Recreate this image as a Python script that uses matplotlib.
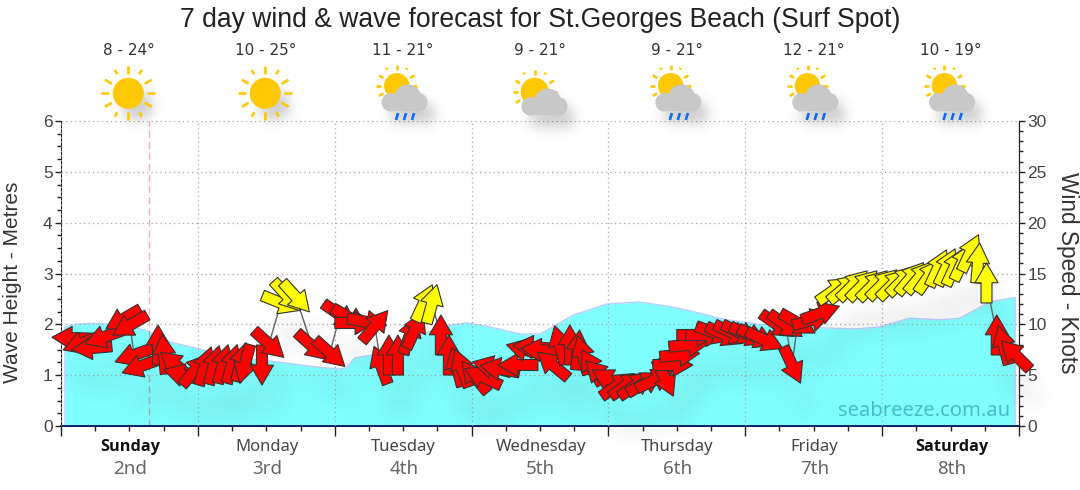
import numpy as np
import matplotlib
matplotlib.use("Agg")
import matplotlib.pyplot as plt
from matplotlib.patches import Circle, Rectangle
from matplotlib.collections import PatchCollection
from matplotlib.ticker import MultipleLocator

plt.rcParams['font.family'] = ['Liberation Sans', 'DejaVu Sans']

title = "7 day wind & wave forecast for St.Georges Beach (Surf Spot)"
days = ["Sunday", "Monday", "Tuesday", "Wednesday", "Thursday", "Friday", "Saturday"]
dates = ["2nd", "3rd", "4th", "5th", "6th", "7th", "8th"]
bold_days = ["Sunday", "Saturday"]
temps = ["8 - 24°", "10 - 25°", "11 - 21°", "9 - 21°", "9 - 21°", "12 - 21°", "10 - 19°"]
icons = ["sun", "sun", "rain", "cloud", "rain", "rain", "rain"]

wave_hours = [0.7, 2.5, 5.1, 10.3, 14.7, 19.1, 23.8, 28.4, 33.1, 37.2, 44.9, 48.9, 50.1, 51.5, 54.7, 60.7,
              66.4, 71.2, 75.2, 80.5, 84.0, 89.8, 95.7, 101.5, 107.3, 112.0, 116.1, 122.5, 133.6, 139.6,
              143.6, 148.8, 154.1, 157.6, 162.9, 167.3]
wave_m = [1.95, 2.00, 2.02, 2.00, 1.89, 1.65, 1.53, 1.40, 1.32, 1.27, 1.16, 1.12, 1.15, 1.34, 1.40, 1.65,
          1.95, 2.03, 1.95, 1.81, 1.81, 2.18, 2.40, 2.44, 2.34, 2.22, 2.10, 2.00, 1.93, 1.91,
          1.95, 2.12, 2.09, 2.12, 2.44, 2.53]

wind_hours = [1.93, 3.68, 5.43, 7.54, 10.9, 12.1, 12.80, 14.03, 17.01, 18.06, 20.16, 21.39, 23.49, 25.25,
              26.82, 28.40, 29.98, 31.56, 32.26, 35.24, 36.47, 38.57, 39.62, 41.20, 44.00, 47.16, 48.91,
              50.67, 51.54, 53.65, 55.05, 56.10, 57.50, 59.08, 61.19, 62.06, 63.64, 65.04, 66.62, 68.02,
              69.42, 70.30, 72.58, 73.98, 75.56, 76.96, 80.12, 81.52, 82.75, 84.15, 86.25, 87.48, 89.24,
              90.64, 91.52, 93.09, 94.50, 96.25, 97.65, 99.23, 100.8, 102.4, 104.1, 105.9, 107.3, 108.5,
              110.1, 111.5, 113.1, 114.7, 116.4, 117.8, 119.2, 120.6, 122.0, 123.4, 125.7, 127.1, 128.2,
              129.2, 131.7, 133.2, 135.6, 137.4, 138.9, 140.6, 142.4, 144.1, 145.9, 147.6, 149.0, 150.6,
              152.2, 153.8, 155.3, 156.7, 158.1, 159.4, 160.8, 162.3, 164.1, 165.3, 167.4]
wind_knots = [8.66, 8.16, 7.67, 8.75, 10.52, 9.93, 6.98, 5.90, 7.97, 7.08, 6.00, 5.02, 5.51, 5.90,
              6.00, 6.10, 6.10, 6.29, 6.10, 6.00, 8.07, 12.10, 12.79, 12.69, 7.87, 7.18, 10.92,
              10.62, 10.13, 10.23, 9.84, 6.00, 6.98, 6.98, 8.95, 9.44, 12.10, 12.00, 8.95, 6.98,
              5.80, 5.70, 4.82, 4.82, 5.80, 5.61, 6.00, 7.48, 7.77, 7.48, 6.00, 7.97, 7.97,
              7.48, 6.98, 5.80, 5.02, 4.52, 4.03, 4.03, 4.03, 4.23, 4.52, 4.72, 6.00, 6.98,
              7.97, 8.95, 8.95, 9.15, 8.95, 9.15, 9.15, 8.95, 8.75, 8.46, 9.93, 9.93, 6.00,
              10.13, 10.43, 11.11, 13.38, 13.57, 13.87, 13.87, 13.87, 13.97, 13.97, 14.36, 14.56, 14.66,
              14.75, 15.54, 15.64, 15.64, 16.13, 17.02, 16.03, 14.07, 8.95, 7.97, 6.98]
wind_dirs = [178, 200, 185, 200, 210, 210, 200, 200, 90, 95, 140, 165, 50, 72,
             75, 75, 75, 75, 255, 270, -42, -22, -48, -48, -42, -42, -35,
             -30, 0, -10, 50, 110, 90, 90, 70, 65, 65, 75, 90, 90,
             105, 110, 130, 155, 165, 170, 180, 165, 175, 175, 140, 105, 90,
             85, 105, 120, 135, 150, 35, 35, 35, 30, 25, -65, 0, 5,
             5, 0, 0, -20, -25, -25, -25, -25, -25, -25, -35, -35, -65,
             -30, 15, 20, 35, 40, 45, 45, 45, 45, 45, 45, 50, 50,
             55, 65, 65, 65, 65, 65, 85, 90, 90, 105, 135]
offshore = [False] * 21 + [True] * 3 + [False] * 12 + [True] * 2 + [False] * 44 + [True] * 18 + [False] * 3

now_hour = 15.43
W, H = 1080, 490


class Shadow:
    def __init__(self, sigma, dx, dy, strength, pad=40):
        self.sigma, self.dx, self.dy, self.strength, self.pad = sigma, dx, dy, strength, pad

    def __call__(self, im, dpi):
        p = self.pad
        a = np.pad(im[..., 3], p)
        r = int(3 * self.sigma)
        g = np.exp(-0.5 * (np.arange(-r, r + 1) / self.sigma) ** 2)
        g /= g.sum()
        a = np.apply_along_axis(lambda v: np.convolve(v, g, mode='same'), 0, a)
        a = np.apply_along_axis(lambda v: np.convolve(v, g, mode='same'), 1, a)
        a = np.roll(a, (self.dy, self.dx), axis=(0, 1))
        out = np.zeros(a.shape + (4,))
        out[..., :3] = 0.15
        out[..., 3] = np.clip(a * self.strength, 0, 1)
        return out, -p, -p


fig = plt.figure(figsize=(W / 100, H / 100), dpi=100)
ax = fig.add_axes([61 / W, 1 - 426 / H, (1019 - 61) / W, (426 - 121) / H])
ax.set_xlim(0, 168)
ax.set_ylim(0, 6)
ax.fill_between(wave_hours, wave_m, 0, color='#80ffff', lw=0, zorder=1)
ax.plot([wave_hours[0]] + wave_hours + [wave_hours[-1]], [0] + wave_m + [0], color='#b8d0ff', lw=1, zorder=1.2)
ax.set_axisbelow(False)
ax.grid(True, which='major', color='#a6a6a6', lw=0.9, ls=(0, (1, 2.6)))
ax.axvline(now_hour, color=(0.9, 0.1, 0.1, 0.35), lw=1, ls=(0, (5, 3)), zorder=2)
ax.xaxis.set_major_locator(MultipleLocator(24))
ax.xaxis.set_minor_locator(MultipleLocator(6))
ax.yaxis.set_major_locator(MultipleLocator(1))
ax.yaxis.set_minor_locator(MultipleLocator(0.25))
ax.set_xticklabels([])
ax.tick_params(axis='x', which='major', length=7, width=1, color='#222')
ax.tick_params(axis='x', which='minor', length=3.5, width=1, color='#222')
ax.tick_params(axis='y', which='major', length=4, width=1, color='#222', labelsize=12.5, labelcolor='#444', pad=2)
ax.tick_params(axis='y', which='minor', length=3, width=1, color='#222')
ax.spines['top'].set_visible(False)
ax.spines['left'].set_color('#222')
ax.spines['bottom'].set_color('#0b1a5e')
ax.spines['bottom'].set_linewidth(1.4)

ax2 = ax.twinx()
ax2.set_ylim(0, 30)
ax2.yaxis.set_major_locator(MultipleLocator(5))
ax2.yaxis.set_minor_locator(MultipleLocator(1))
ax2.tick_params(axis='y', which='major', length=4, width=1, color='#222', labelsize=12.5, labelcolor='#444', pad=2)
ax2.tick_params(axis='y', which='minor', length=3, width=1, color='#222')
for s in ['top', 'bottom', 'left']:
    ax2.spines[s].set_visible(False)
ax2.spines['right'].set_color('#222')

ax2.plot(wind_hours, wind_knots, color='#666', lw=1, zorder=3)

arrow_px = 40
rad = np.deg2rad(wind_dirs)
u = arrow_px * np.cos(rad)
v = arrow_px * np.sin(rad)
arrow_kw = dict(angles='uv', scale_units='dots', scale=1, units='dots', width=11, headwidth=2.1,
                headlength=1.8, headaxislength=1.8, pivot='mid', clip_on=False)
sh = ax2.quiver(wind_hours, wind_knots, u, v, color='k', lw=0, zorder=4, **arrow_kw)
sh.set_agg_filter(Shadow(6, 4, 12, 0.42))
colors = ['#ffff00' if o else '#ff0000' for o in offshore]
ax2.quiver(wind_hours, wind_knots, u, v, color=colors, edgecolor='#333', linewidth=0.8, zorder=5, **arrow_kw)

ax2.text(0.9906, 0.05, "seabreeze.com.au", transform=ax2.transAxes, ha='right', va='center',
         color='#45bfc4', fontsize=14.5, family='Noto Sans', zorder=6)

ov = fig.add_axes([0, 0, 1, 1], facecolor='none')
ov.set_xlim(0, W)
ov.set_ylim(H, 0)
ov.axis('off')
ov.text(540, 20, title, ha='center', va='center', fontsize=19.1, color='#222')
ov.text(13, 282, "Wave Height - Metres", rotation=90, ha='center', va='center', fontsize=15, color='#333')
ov.text(1067, 273, "Wind Speed - Knots", rotation=270, ha='center', va='center', fontsize=16.3, color='#333')


def sun(cx, cy, r, r1, r2):
    for k in range(12):
        t = np.deg2rad(30 * k)
        start = r1 + (3 if k in (2, 4, 8, 10) else 0)
        ov.plot([cx + start * np.cos(t), cx + r2 * np.cos(t)], [cy + start * np.sin(t), cy + r2 * np.sin(t)],
                color='#ffc800', lw=1.9, solid_capstyle='butt', zorder=3)
    ov.add_patch(Circle((cx, cy), r, color='#ffc800', lw=0, zorder=3))


def cloud_parts(cx, cy):
    return [Circle((cx - 12, cy + 1.3), 9.3), Circle((cx + 5, cy - 3), 13.5), Circle((cx + 15.5, cy + 1.3), 9.3),
            Rectangle((cx - 12, cy), 27.5, 10.4)]


for i, (temp, kind, day, date) in enumerate(zip(temps, icons, days, dates)):
    cx = 129 + 136.9 * i
    ov.text(cx, 50.5, temp, ha='center', va='center', fontsize=11, color='#333', family='DejaVu Sans')
    is_bold = day in bold_days
    ov.text(cx + 1, 447, day, ha='center', va='center', fontsize=11.7 if is_bold else 12,
            color='#111' if is_bold else '#444', fontweight='bold' if is_bold else 'normal',
            family='Open Sans' if is_bold else 'Noto Sans')
    ov.text(cx + 1, 469, date, ha='center', va='center', fontsize=13.5, color='#666', family='Noto Sans')
    if kind == 'sun':
        pc = PatchCollection([Circle((cx, 93), 15.5)], color='k', lw=0, zorder=1)
        pc.set_agg_filter(Shadow(6, 8, 12, 0.22))
        ov.add_collection(pc)
        sun(cx - 0.7, 93.3, 15.5, 19, 27)
    else:
        cy = 101 if kind == 'rain' else 105
        parts = cloud_parts(cx if kind == 'rain' else cx + 3, cy)
        pc = PatchCollection(parts, color='k', lw=0, zorder=1)
        pc.set_agg_filter(Shadow(6, 8, 12, 0.22))
        ov.add_collection(pc)
        if kind == 'rain':
            sun(cx - 6, 85.7, 12.7, 15.5, 20.5)
        else:
            sun(cx - 5, 91.7, 14, 17, 22)
        ov.add_collection(PatchCollection(parts, color='#c8c8c8', lw=0, zorder=4))
        if kind == 'rain':
            for dx in (-6, 2, 10):
                ov.plot([cx + dx + 1.3, cx + dx - 0.8], [113, 120], color='#0a6cff', lw=1.9,
                        solid_capstyle='butt', zorder=4)

fig.savefig('out.png', dpi=100)
